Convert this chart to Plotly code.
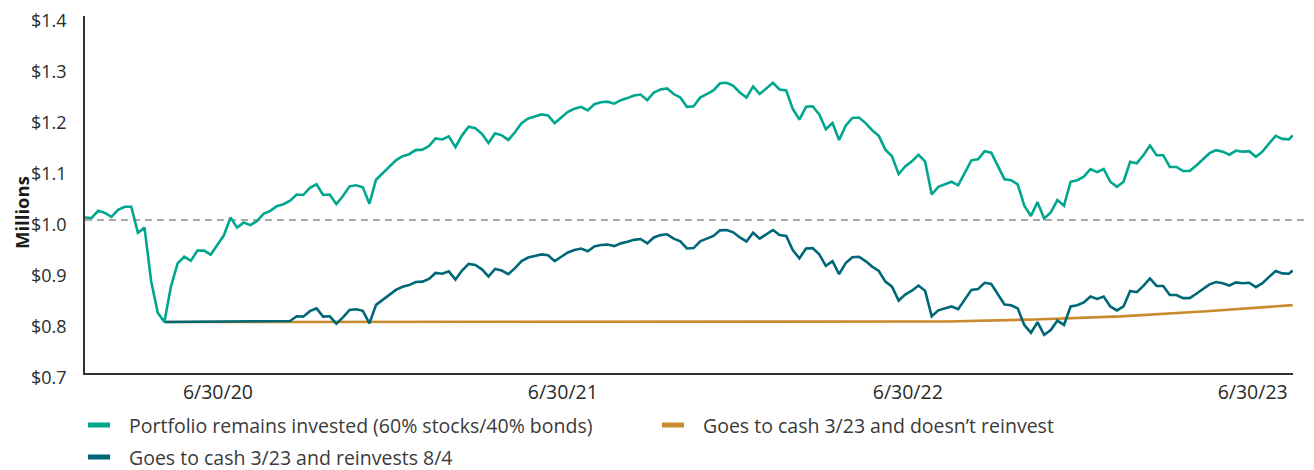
import pandas as pd
import plotly.graph_objects as go

# ---------------- data (values in $ millions) ----------------
week_start = "2019-12-30"
n_weeks = 183
last_date = "2023-06-30"

portfolio = [
    1.005, 1.004, 1.018, 1.014, 1.006, 1.020, 1.026, 1.026, 0.975, 0.985,
    0.880, 0.818, 0.800, 0.870, 0.915, 0.928, 0.920, 0.940, 0.940, 0.932,
    0.951, 0.970, 1.005, 0.985, 0.995, 0.990, 0.998, 1.012, 1.018, 1.027,
    1.031, 1.038, 1.050, 1.049, 1.063, 1.070, 1.049, 1.050, 1.031, 1.047,
    1.066, 1.068, 1.064, 1.032, 1.079, 1.092, 1.103, 1.117, 1.125, 1.129,
    1.137, 1.138, 1.145, 1.160, 1.158, 1.164, 1.143, 1.166, 1.183, 1.180,
    1.169, 1.151, 1.170, 1.166, 1.157, 1.172, 1.190, 1.199, 1.203, 1.207,
    1.205, 1.190, 1.201, 1.212, 1.218, 1.222, 1.215, 1.227, 1.231, 1.232,
    1.228, 1.235, 1.239, 1.244, 1.246, 1.235, 1.250, 1.256, 1.258, 1.247,
    1.240, 1.222, 1.223, 1.240, 1.247, 1.254, 1.268, 1.269, 1.263, 1.250,
    1.240, 1.262, 1.247, 1.258, 1.269, 1.256, 1.254, 1.218, 1.197, 1.222,
    1.223, 1.207, 1.178, 1.190, 1.157, 1.185, 1.200, 1.201, 1.190, 1.176,
    1.165, 1.138, 1.125, 1.090, 1.105, 1.115, 1.128, 1.115, 1.050, 1.065,
    1.070, 1.075, 1.068, 1.094, 1.117, 1.119, 1.135, 1.132, 1.105, 1.080,
    1.078, 1.070, 1.028, 1.008, 1.035, 1.003, 1.015, 1.039, 1.028, 1.075,
    1.078, 1.085, 1.100, 1.094, 1.100, 1.075, 1.065, 1.075, 1.114, 1.111,
    1.127, 1.146, 1.127, 1.127, 1.104, 1.104, 1.096, 1.096, 1.107, 1.120,
    1.131, 1.137, 1.134, 1.128, 1.136, 1.134, 1.135, 1.124, 1.134, 1.150,
    1.165, 1.159, 1.158,
    1.166,
]

# goes to cash 3/23, reinvests 8/4 (flat in cash, then weekly from week 31)
reinvest_cash_date = "2020-03-23"
reinvest_cash_value = 0.800
reinvest_first_week = 31
reinvest_values = [
    0.802,
    0.8112, 0.8105, 0.8213, 0.8267, 0.8105, 0.8112, 0.7966, 0.8089,
    0.8236, 0.8251, 0.8220, 0.7973, 0.8336, 0.8437, 0.8522, 0.8630, 0.8692, 0.8723,
    0.8784, 0.8792, 0.8846, 0.8962, 0.8947, 0.8993, 0.8831, 0.9009, 0.9140, 0.9117,
    0.9032, 0.8893, 0.9039, 0.9009, 0.8939, 0.9055, 0.9194, 0.9263, 0.9294, 0.9325,
    0.9310, 0.9194, 0.9279, 0.9364, 0.9410, 0.9441, 0.9387, 0.9480, 0.9511, 0.9518,
    0.9488, 0.9542, 0.9572, 0.9611, 0.9627, 0.9542, 0.9658, 0.9704, 0.9719, 0.9634,
    0.9580, 0.9441, 0.9449, 0.9580, 0.9634, 0.9688, 0.9797, 0.9804, 0.9758, 0.9658,
    0.9580, 0.9750, 0.9634, 0.9719, 0.9804, 0.9704, 0.9688, 0.9410, 0.9248, 0.9441,
    0.9449, 0.9325, 0.9101, 0.9194, 0.8939, 0.9155, 0.9271, 0.9279, 0.9194, 0.9086,
    0.9001, 0.8792, 0.8692, 0.8421, 0.8537, 0.8614, 0.8715, 0.8614, 0.8112, 0.8228,
    0.8267, 0.8305, 0.8251, 0.8452, 0.8630, 0.8645, 0.8769, 0.8746, 0.8537, 0.8344,
    0.8329, 0.8267, 0.7942, 0.7788, 0.7996, 0.7749, 0.7842, 0.8027, 0.7942, 0.8305,
    0.8329, 0.8383, 0.8499, 0.8452, 0.8499, 0.8305, 0.8228, 0.8305, 0.8607, 0.8584,
    0.8707, 0.8854, 0.8707, 0.8707, 0.8530, 0.8530, 0.8468, 0.8468, 0.8553, 0.8653,
    0.8738, 0.8784, 0.8761, 0.8715, 0.8777, 0.8761, 0.8769, 0.8684, 0.8761, 0.8885,
    0.9001, 0.8954, 0.8947,
    0.9009,
]

# goes to cash 3/23 and doesn't reinvest
cash_dates = ["2020-03-23", "2022-03-31", "2022-06-30", "2022-09-30",
              "2022-12-30", "2023-03-31", "2023-06-30"]
cash_values = [0.800, 0.800, 0.801, 0.805, 0.811, 0.821, 0.833]

tick_dates = ["2020-06-30", "2021-06-30", "2022-06-30", "2023-06-30"]
tick_labels = ["6/30/20", "6/30/21", "6/30/22", "6/30/23"]
y_ticks = [0.7, 0.8, 0.9, 1.0, 1.1, 1.2, 1.3, 1.4]
y_labels = ["$0.7", "$0.8", "$0.9", "$1.0", "$1.1", "$1.2", "$1.3", "$1.4"]
y_title = "Millions"

names = [
    "Portfolio remains invested (60% stocks/40% bonds)",
    "Goes to cash 3/23 and doesn\u2019t reinvest",
    "Goes to cash 3/23 and reinvests 8/4",
]
colors = ["#00A78E", "#C98B2E", "#006778"]

# ---------------- build ----------------
dates = list(pd.date_range(week_start, periods=n_weeks, freq="7D").strftime("%Y-%m-%d")) + [last_date]
reinvest_dates = [reinvest_cash_date] + dates[reinvest_first_week:]
reinvest = [reinvest_cash_value] + reinvest_values

FONT = "Open Sans"
OFF = 8                      # default page body margin of the html page
W, H = 1314 - OFF, 470 - OFF
ML, MR, MT, MB = 85 - OFF, 21, 16 - OFF, 97
PW, PH = W - ML - MR, H - MT - MB

fig = go.Figure()
fig.add_trace(go.Scatter(x=cash_dates, y=cash_values, mode="lines", name=names[1],
                         line=dict(color=colors[1], width=2.6), showlegend=False))
fig.add_trace(go.Scatter(x=reinvest_dates, y=reinvest, mode="lines", name=names[2],
                         line=dict(color=colors[2], width=2.6), showlegend=False))
fig.add_trace(go.Scatter(x=dates, y=portfolio, mode="lines", name=names[0],
                         line=dict(color=colors[0], width=2.6), showlegend=False))


def px_x(x):
    return (x - OFF - ML) / PW


def px_y(y):
    return (H - MB - (y - OFF)) / PH


shapes = [dict(type="line", xref="paper", yref="y", x0=0, x1=px_x(1314), y0=1.0, y1=1.0,
               line=dict(color="#8f8f8f", width=1.6, dash="7px,5px"), layer="below")]
annotations = [dict(xref="paper", yref="paper", x=px_x(21), y=px_y(213),
                    xanchor="center", yanchor="middle", showarrow=False, textangle=-90,
                    text="<b>" + y_title + "</b>", borderpad=0,
                    font=dict(family=FONT, size=18.5, color="#1a1a1a"))]
legend_items = [(names[0], colors[0], 88, 425), (names[1], colors[1], 662, 425),
                (names[2], colors[2], 88, 457)]
for text, col, lx, ly in legend_items:
    shapes.append(dict(type="line", xref="paper", yref="paper",
                       x0=px_x(lx), x1=px_x(lx + 22), y0=px_y(ly), y1=px_y(ly),
                       line=dict(color=col, width=5)))
    annotations.append(dict(xref="paper", yref="paper", x=px_x(lx + 40), y=px_y(ly),
                            xanchor="left", yanchor="middle", showarrow=False, text=text,
                            borderpad=0,
                            font=dict(family=FONT, size=19.5, color="#3a3a3a")))

fig.update_layout(
    width=W, height=H, margin=dict(l=ML, r=MR, t=MT, b=MB, autoexpand=False),
    paper_bgcolor="white", plot_bgcolor="white",
    font=dict(family=FONT, size=18, color="#2b2b2b"),
    showlegend=False, shapes=shapes, annotations=annotations,
    xaxis=dict(type="date", range=["2019-12-30", "2023-06-30 08:00"],
               tickvals=tick_dates, ticktext=tick_labels, ticks="", automargin=False,
               showgrid=False, zeroline=False, showline=True, linecolor="#333333",
               linewidth=1.5, ticklabelshift=-40, ticklabelstandoff=1,
               tickfont=dict(size=19.5)),
    yaxis=dict(range=[0.7, 1.4], tickvals=y_ticks, ticktext=y_labels, ticks="",
               automargin=False, ticklabeloverflow="allow", ticklabelshift=5,
               showgrid=False, zeroline=False, showline=True, linecolor="#333333",
               linewidth=1.5, tickfont=dict(size=18), ticklabelstandoff=13),
)

fig.write_html("out.html")
